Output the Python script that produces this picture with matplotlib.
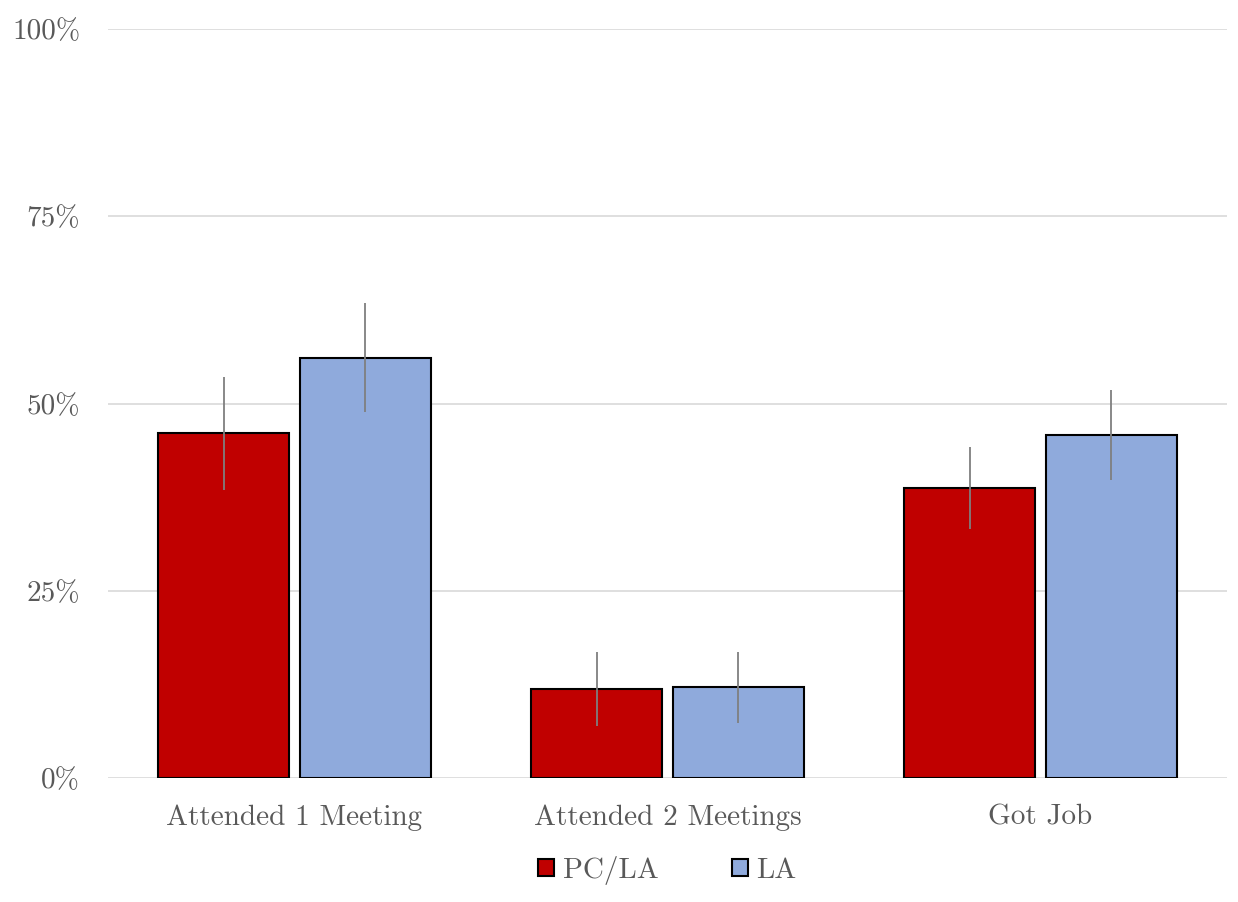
import matplotlib.pyplot as plt
import numpy as np

plt.rcParams['font.family'] = ['cmr10', 'DejaVu Serif']
plt.rcParams['axes.formatter.use_mathtext'] = True

categories = ["Attended 1 Meeting", "Attended 2 Meetings", "Got Job"]
series = ["PC/LA", "LA"]
pcla = [46.0, 11.9, 38.7]
la = [56.1, 12.1, 45.8]
pcla_err = [7.5, 4.9, 5.5]
la_err = [7.3, 4.7, 6.0]
colors = ["#c00000", "#8faadc"]
text_col = "#595959"

fig = plt.figure(figsize=(12.38, 9.02), dpi=100)
ax = fig.add_axes([108/1238, 1 - 778/902, 1119/1238, 749/902])

x = np.arange(len(categories))
w = 0.35
off = 0.19
ax.bar(x - off, pcla, w, color=colors[0], edgecolor="black", linewidth=1.5,
       yerr=pcla_err, error_kw=dict(ecolor="#7f7f7f", elinewidth=1.3, capsize=0),
       label=series[0], zorder=3)
ax.bar(x + off, la, w, color=colors[1], edgecolor="black", linewidth=1.5,
       yerr=la_err, error_kw=dict(ecolor="#7f7f7f", elinewidth=1.3, capsize=0),
       label=series[1], zorder=3)

ax.set_xlim(-0.5, 2.5)
ax.set_ylim(0, 100)
ax.set_yticks([0, 25, 50, 75, 100])
ax.set_yticklabels([f"{v}%" for v in [0, 25, 50, 75, 100]])
ax.set_xticks(x)
ax.set_xticklabels(categories)
ax.grid(axis="y", color="#d9d9d9", linewidth=1.2, zorder=0)
for s in ax.spines.values():
    s.set_visible(False)
ax.tick_params(axis="both", length=0, labelsize=21, colors=text_col)
ax.tick_params(axis="y", pad=20)
ax.tick_params(axis="x", pad=19)

ax.legend(loc="upper center", bbox_to_anchor=(0.5, -0.069), ncol=2, frameon=False,
          fontsize=21, labelcolor=text_col, handlelength=0.55, handleheight=0.55,
          columnspacing=2.5, handletextpad=0.3)

fig.savefig("out.png", dpi=100)
